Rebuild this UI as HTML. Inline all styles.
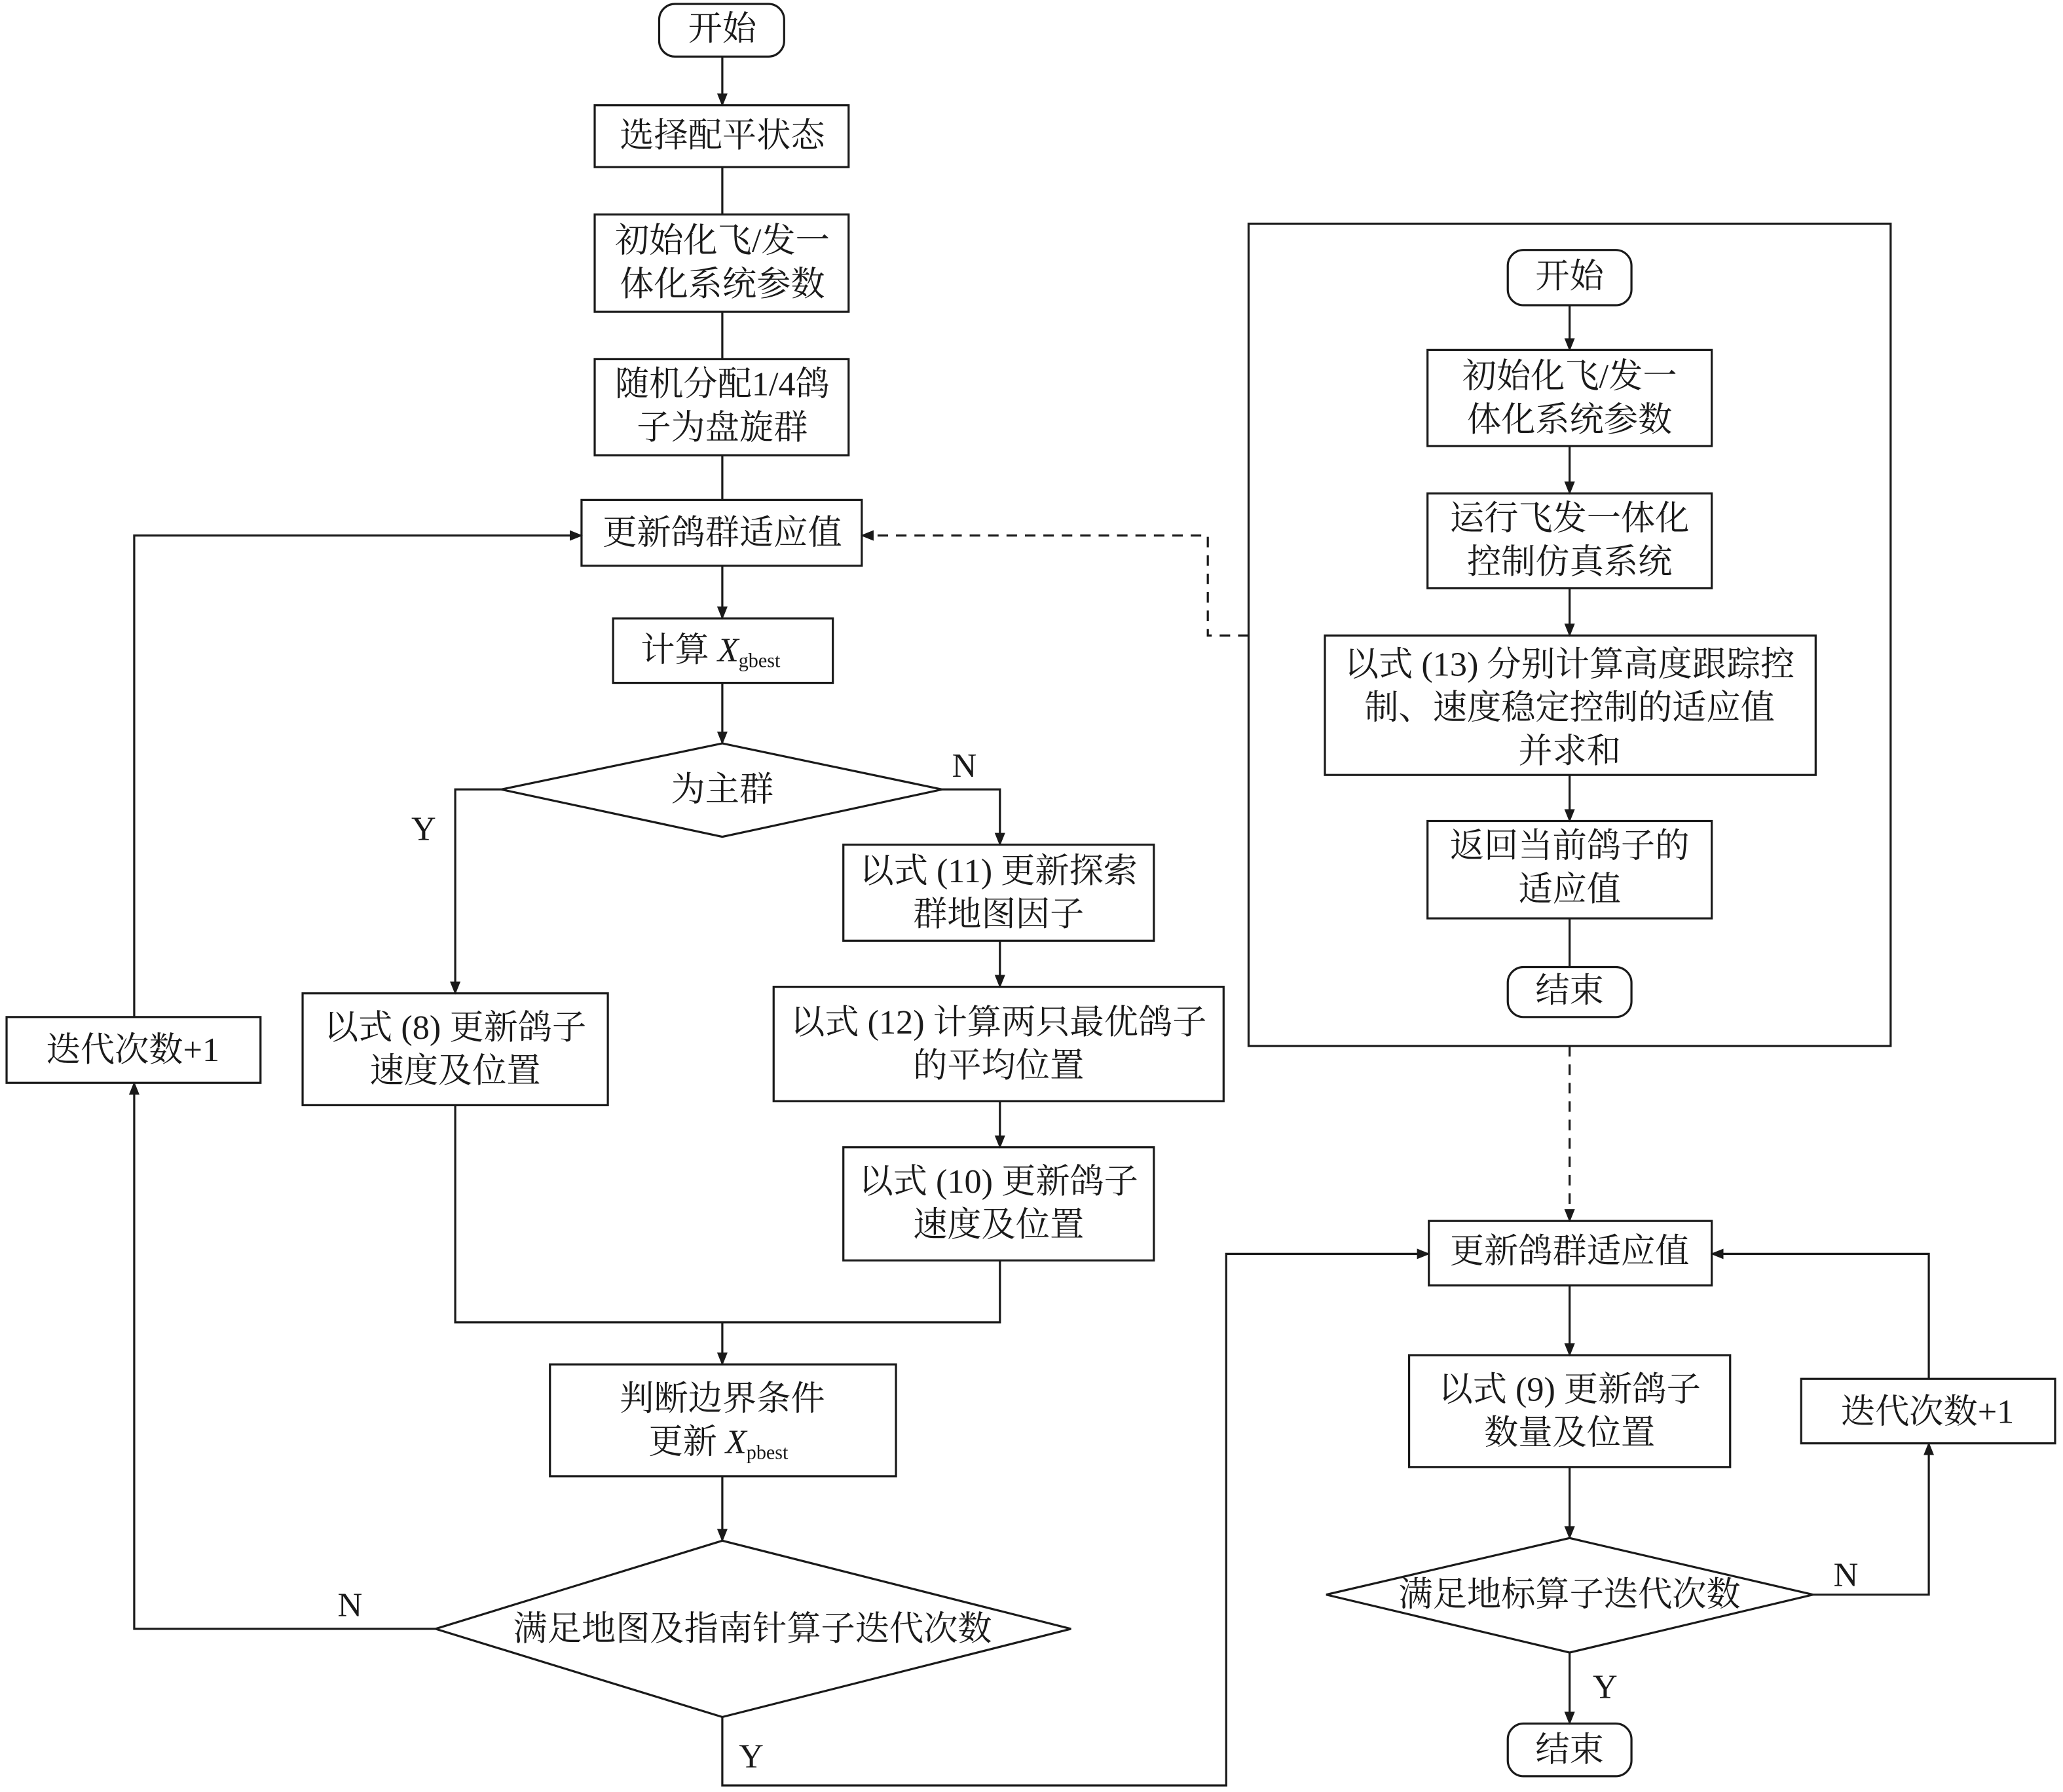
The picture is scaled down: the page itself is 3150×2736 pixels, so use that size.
<!DOCTYPE html>
<html><head><meta charset="utf-8"><style>
html,body{margin:0;padding:0;background:#fff;}
svg{display:block}
text{font-family:"Liberation Serif","Noto Serif CJK SC",serif;font-size:26px;fill:#1a1a1a;text-anchor:middle;dominant-baseline:central}
.s{font-size:15px}
</style></head><body>
<svg width="3150" height="2736" viewBox="0 0 1568 1362" preserveAspectRatio="none" xmlns="http://www.w3.org/2000/svg">
<defs><marker id="a" markerWidth="10" markerHeight="10" refX="9" refY="5" orient="auto" markerUnits="userSpaceOnUse"><path d="M0,1 L10,5 L0,9 z" fill="#1a1a1a"/></marker></defs>
<g fill="none" stroke="#1a1a1a" stroke-width="1.6">
<rect x="501" y="3" width="95" height="40" rx="12"/>
<rect x="452" y="80" width="193" height="47"/>
<rect x="452" y="163" width="193" height="74"/>
<rect x="452" y="273" width="193" height="73"/>
<rect x="442" y="380" width="213" height="50"/>
<rect x="466" y="470" width="167" height="49"/>
<polygon points="381,600 549,565 716,600 549,636"/>
<rect x="641" y="642" width="236" height="73"/>
<rect x="588" y="750" width="342" height="87"/>
<rect x="641" y="872" width="236" height="86"/>
<rect x="230" y="755" width="232" height="85"/>
<rect x="418" y="1037" width="263" height="85"/>
<polygon points="331,1238 549,1171 814,1238 549,1305"/>
<rect x="5" y="773" width="193" height="50"/>
<rect x="949" y="170" width="488" height="625"/>
<rect x="1146" y="190" width="94" height="42" rx="12"/>
<rect x="1085" y="266" width="216" height="73"/>
<rect x="1085" y="375" width="216" height="72"/>
<rect x="1007" y="483" width="373" height="106"/>
<rect x="1085" y="624" width="216" height="74"/>
<rect x="1146" y="735" width="94" height="38" rx="12"/>
<rect x="1086" y="928" width="215" height="49"/>
<rect x="1071" y="1030" width="244" height="85"/>
<polygon points="1008,1212 1193,1169 1378,1212 1193,1256"/>
<rect x="1369" y="1048" width="193" height="49"/>
<rect x="1146" y="1310" width="94" height="40" rx="12"/>
<!-- connectors -->
<path d="M549,43 V80" marker-end="url(#a)"/>
<path d="M549,127 V163"/>
<path d="M549,237 V273"/>
<path d="M549,346 V380"/>
<path d="M549,430 V470" marker-end="url(#a)"/>
<path d="M549,519 V565" marker-end="url(#a)"/>
<path d="M381,600 H346 V755" marker-end="url(#a)"/>
<path d="M716,600 H760 V642" marker-end="url(#a)"/>
<path d="M760,715 V750" marker-end="url(#a)"/>
<path d="M760,837 V872" marker-end="url(#a)"/>
<path d="M346,840 V1005 H760 V958"/>
<path d="M549,1005 V1037" marker-end="url(#a)"/>
<path d="M549,1122 V1171" marker-end="url(#a)"/>
<path d="M331,1238 H102 V823" marker-end="url(#a)"/>
<path d="M102,773 V407 H442" marker-end="url(#a)"/>
<path d="M549,1305 V1357 H932 V953 H1086" marker-end="url(#a)"/>
<path d="M1193,232 V266" marker-end="url(#a)"/>
<path d="M1193,339 V375" marker-end="url(#a)"/>
<path d="M1193,447 V483" marker-end="url(#a)"/>
<path d="M1193,589 V624" marker-end="url(#a)"/>
<path d="M1193,698 V735"/>
<path d="M949,483 H918 V407 H655" stroke-dasharray="8,6" marker-end="url(#a)"/>
<path d="M1193,795 V928" stroke-dasharray="8,6" marker-end="url(#a)"/>
<path d="M1193,977 V1030" marker-end="url(#a)"/>
<path d="M1193,1115 V1169" marker-end="url(#a)"/>
<path d="M1378,1212 H1466 V1097" marker-end="url(#a)"/>
<path d="M1466,1048 V953 H1301" marker-end="url(#a)"/>
<path d="M1193,1256 V1310" marker-end="url(#a)"/>
</g>
<text x="549" y="22">开始</text>
<text x="549" y="103">选择配平状态</text>
<text x="549" y="183">初始化飞/发一</text>
<text x="549" y="216">体化系统参数</text>
<text x="549" y="292">随机分配1/4鸽</text>
<text x="549" y="325">子为盘旋群</text>
<text x="549" y="405">更新鸽群适应值</text>
<text x="540" y="494">计算 <tspan font-style="italic">X</tspan><tspan class="s" dy="8">gbest</tspan></text>
<text x="549" y="600">为主群</text>
<text x="322" y="630">Y</text>
<text x="733" y="582">N</text>
<text x="759" y="662">以式 (11) 更新探索</text>
<text x="759" y="695">群地图因子</text>
<text x="759" y="777">以式 (12) 计算两只最优鸽子</text>
<text x="759" y="810">的平均位置</text>
<text x="759" y="898">以式 (10) 更新鸽子</text>
<text x="759" y="931">速度及位置</text>
<text x="346" y="781">以式 (8) 更新鸽子</text>
<text x="346" y="814">速度及位置</text>
<text x="549" y="1063">判断边界条件</text>
<text x="546" y="1096">更新 <tspan font-style="italic">X</tspan><tspan class="s" dy="8">pbest</tspan></text>
<text x="572" y="1238">满足地图及指南针算子迭代次数</text>
<text x="266" y="1220">N</text>
<text x="571" y="1335">Y</text>
<text x="101" y="798">迭代次数+1</text>
<text x="1193" y="210">开始</text>
<text x="1193" y="286">初始化飞/发一</text>
<text x="1193" y="319">体化系统参数</text>
<text x="1193" y="394">运行飞发一体化</text>
<text x="1193" y="427">控制仿真系统</text>
<text x="1193" y="505">以式 (13) 分别计算高度跟踪控</text>
<text x="1193" y="538">制、速度稳定控制的适应值</text>
<text x="1193" y="571">并求和</text>
<text x="1193" y="643">返回当前鸽子的</text>
<text x="1193" y="676">适应值</text>
<text x="1193" y="753">结束</text>
<text x="1193" y="951">更新鸽群适应值</text>
<text x="1193" y="1056">以式 (9) 更新鸽子</text>
<text x="1193" y="1089">数量及位置</text>
<text x="1193" y="1212">满足地标算子迭代次数</text>
<text x="1403" y="1197">N</text>
<text x="1220" y="1282">Y</text>
<text x="1465" y="1073">迭代次数+1</text>
<text x="1193" y="1330">结束</text>
</svg>
</body></html>
